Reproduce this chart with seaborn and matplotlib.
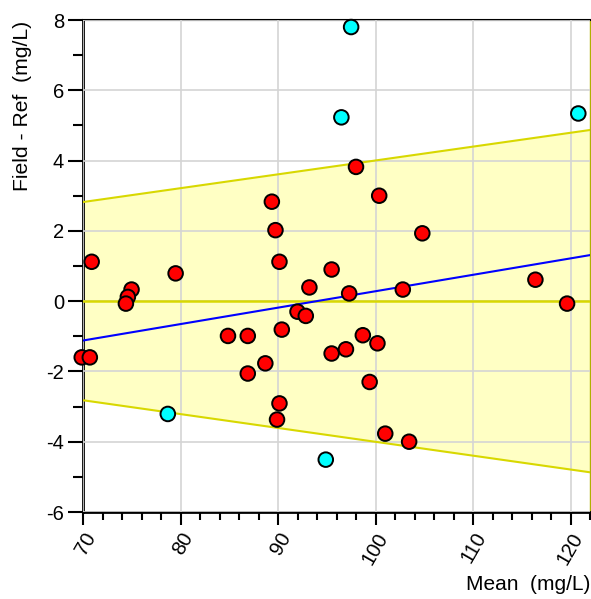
import matplotlib
matplotlib.use("Agg")
import matplotlib.pyplot as plt
from matplotlib.ticker import MultipleLocator
import seaborn as sns
import pandas as pd

# Data
red_x = [70.89, 79.5, 74.98, 74.6, 74.4, 69.87, 70.7,
         89.37, 89.74, 90.15, 100.38, 95.5, 93.22, 97.3, 102.8, 92.0, 92.85, 104.8, 98.0,
         116.4, 119.65,
         84.87, 86.9, 90.39, 86.9, 88.7, 90.15, 89.9, 95.5, 96.97, 98.7, 100.2, 99.4, 101.0, 103.45]
red_y = [1.12, 0.79, 0.33, 0.12, -0.07, -1.60, -1.60,
         2.83, 2.02, 1.12, 3.0, 0.90, 0.39, 0.22, 0.33, -0.30, -0.42, 1.93, 3.82,
         0.61, -0.07,
         -0.99, -0.99, -0.81, -2.06, -1.77, -2.91, -3.37, -1.49, -1.37, -0.97, -1.20, -2.30, -3.77, -4.00]
cyan_x = [97.5, 96.5, 120.8, 78.7, 94.9]
cyan_y = [7.80, 5.23, 5.34, -3.21, -4.51]

line_x = [70, 122]
bias_y = [-1.12, 1.31]
upper_y = [2.82, 4.87]
lower_y = [-2.82, -4.87]
zero_y = [0, 0]

x_ticks = [70, 80, 90, 100, 110, 120]
y_ticks = [-6, -4, -2, 0, 2, 4, 6, 8]

df = pd.DataFrame({
    "x": red_x + cyan_x,
    "y": red_y + cyan_y,
    "grp": ["in"] * len(red_x) + ["out"] * len(cyan_x),
})

sns.set_theme(style="white")
plt.rcParams["font.family"] = ["Liberation Sans", "DejaVu Sans"]
plt.rcParams["axes.unicode_minus"] = False
plt.rcParams["text.color"] = "black"
plt.rcParams["xtick.color"] = "black"
plt.rcParams["ytick.color"] = "black"
plt.rcParams["xtick.labelcolor"] = "black"
plt.rcParams["ytick.labelcolor"] = "black"

fig = plt.figure(figsize=(5.91, 5.99), dpi=100)
ax = fig.add_axes([83 / 591, 1 - 512 / 599, (590 - 83) / 591, (512 - 20) / 599])

ax.set_xlim(70, 122)
ax.set_ylim(-6, 8)

ax.fill_between(line_x, lower_y, upper_y, color="#ffffc4", zorder=1, linewidth=0)
ax.set_xticks(x_ticks)
ax.set_yticks(y_ticks)
ax.xaxis.set_minor_locator(MultipleLocator(2))
ax.yaxis.set_minor_locator(MultipleLocator(1))
ax.grid(True, which="major", color="#d4d4d4", linewidth=1.2, zorder=2)
ax.set_axisbelow(False)
for gl in ax.get_xgridlines() + ax.get_ygridlines():
    gl.set_zorder(2)

ax.plot(line_x, upper_y, color="#d8d800", linewidth=1.5, zorder=3)
ax.plot(line_x, lower_y, color="#d8d800", linewidth=1.5, zorder=3)
ax.plot(line_x, zero_y, color="#d8d800", linewidth=1.8, zorder=3)
ax.plot(line_x, bias_y, color="#0000ff", linewidth=1.5, zorder=4)

sns.scatterplot(data=df, x="x", y="y", hue="grp",
                palette={"in": "#ff0000", "out": "#00ffff"},
                s=110, edgecolor="black", linewidth=1.4, legend=False,
                ax=ax, zorder=5, clip_on=False)

for side in ["left", "bottom"]:
    ax.spines[side].set_color("black")
    ax.spines[side].set_linewidth(2)
ax.spines["top"].set_color("black")
ax.spines["top"].set_linewidth(1.5)
ax.spines["right"].set_color("#b0b000")
ax.spines["right"].set_linewidth(1)

ax.tick_params(axis="y", which="major", direction="out", length=11, width=1.5,
               labelsize=14.5, color="black", labelcolor="black", left=True, pad=2.5)
ax.tick_params(axis="y", which="minor", direction="out", length=7, width=1.5,
               color="black", left=True)
ax.tick_params(axis="x", which="major", direction="out", length=9.5, width=1.5,
               labelsize=14.5, color="black", labelcolor="black", bottom=True, pad=3)
ax.tick_params(axis="x", which="minor", direction="out", length=6, width=1.5,
               color="black", bottom=True)
for lbl in ax.get_xticklabels():
    lbl.set_rotation(60)
    lbl.set_ha("right")
    lbl.set_rotation_mode("anchor")

ax.set_xlabel("")
ax.set_ylabel("")
fig.text(590 / 591, 1 - 585 / 599, "Mean  (mg/L)", ha="right", va="center",
         fontsize=15, color="black")
fig.text(23 / 591, 1 - 21 / 599, "Field - Ref  (mg/L)", ha="center", va="top",
         rotation=90, fontsize=15.2, color="black")

fig.savefig("out.png", dpi=100)
